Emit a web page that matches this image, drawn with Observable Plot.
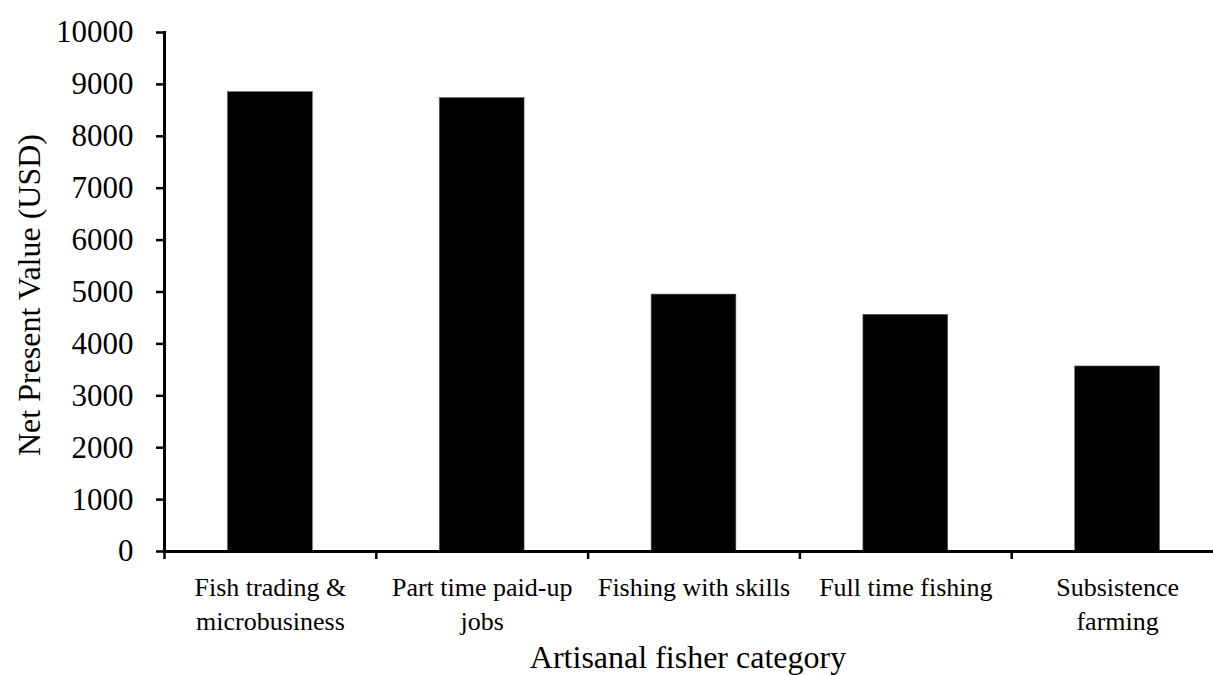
<!DOCTYPE html>
<html>
<head>
<meta charset="utf-8">
<script src="https://cdn.jsdelivr.net/npm/d3@7"></script>
<script src="https://cdn.jsdelivr.net/npm/@observablehq/plot@0.6"></script>
<style>
  html, body { margin: 0; padding: 0; background: #fff; }
  #chart svg { display: block; }
</style>
</head>
<body>
<div id="chart"></div>
<script>
const categories = [
  "Fish trading &\nmicrobusiness",
  "Part time paid-up\njobs",
  "Fishing with skills",
  "Full time fishing",
  "Subsistence\nfarming"
];
const values = [8850, 8735, 4950, 4560, 3565];
const yTicks = [0, 1000, 2000, 3000, 4000, 5000, 6000, 7000, 8000, 9000, 10000];
const xTitle = "Artisanal fisher category";
const yTitle = "Net Present Value (USD)";

const data = categories.map((c, i) => ({cat: c, value: values[i]}));

const W = 1213, H = 675;
const mLeft = 164, xEnd = 1223, mTop = 32, mBottom = 124;
const padIn = 0.6, padOut = 0.3;
const step = (xEnd - mLeft) / (categories.length - padIn + 2 * padOut);
const font = "'Liberation Serif', 'Times New Roman', serif";

const chart = Plot.plot({
  width: W,
  height: H,
  marginLeft: mLeft,
  marginRight: 0,
  marginTop: mTop,
  marginBottom: mBottom,
  style: {fontFamily: font, color: "black", background: "white", overflow: "visible"},
  x: {type: "band", domain: categories, range: [mLeft, xEnd], paddingInner: padIn, paddingOuter: padOut, round: false, axis: null},
  y: {domain: [0, 10000], axis: null},
  marks: [
    Plot.barY(data, {x: "cat", y: "value", fill: "black", stroke: "#555", strokeWidth: 0.6}),
    Plot.axisY({ticks: yTicks, tickSize: 8, tickPadding: 23, strokeWidth: 2.5, fontSize: 31, label: null, tickFormat: d => String(d)}),
    Plot.axisX({tickSize: 8, strokeWidth: 2.5, dx: -step / 2, tickFormat: () => "", label: null}),
    Plot.frame({anchor: "left", strokeWidth: 3}),
    Plot.ruleY([0], {strokeWidth: 3}),
    Plot.text(data, {x: "cat", y: 0, text: "cat", fontSize: 26, lineAnchor: "top", lineHeight: 1.31, dy: 20, fill: "black"}),
    Plot.text([xTitle], {frameAnchor: "bottom", text: d => d, fontSize: 32, textAnchor: "middle", lineAnchor: "middle", dy: 106, dx: -1, fill: "black"}),
    Plot.text([yTitle], {frameAnchor: "left", text: d => d, fontSize: 32, rotate: -90, textAnchor: "middle", lineAnchor: "middle", dx: -135, dy: 3, fill: "black"})
  ]
});
document.getElementById("chart").appendChild(chart);
</script>
</body>
</html>
